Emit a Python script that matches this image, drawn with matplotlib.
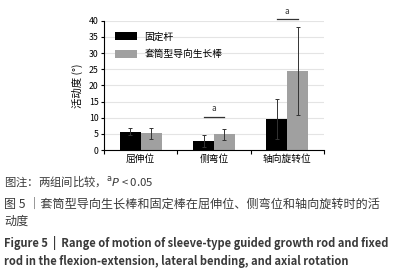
import numpy as np
import matplotlib
matplotlib.use('Agg')
import matplotlib.pyplot as plt

plt.rcParams['font.family'] = ['Noto Sans CJK SC', 'DejaVu Sans']

# 数据
categories = ['屈伸位', '侧弯位', '轴向旋转位']
series_names = ['固定杆', '套筒型导向生长棒']
fixed_mean = [5.7, 2.8, 9.5]
fixed_sd = [1.1, 1.8, 6.2]
sleeve_mean = [5.2, 4.9, 24.5]
sleeve_sd = [1.7, 1.7, 13.7]
yticks = [0, 5, 10, 15, 20, 25, 30, 35, 40]

fig = plt.figure(figsize=(4.12, 2.75), dpi=100)
ax = fig.add_axes([104 / 412, 1 - 150 / 275, 220 / 412, 129.3 / 275])

x = np.arange(len(categories))
w = 0.286
ax.bar(x - w / 2, fixed_mean, w, color='black', label=series_names[0], zorder=2)
ax.bar(x + w / 2, sleeve_mean, w, color='#a0a0a0', label=series_names[1], zorder=2)
ekw = dict(fmt='none', ecolor='#333333', elinewidth=0.7, capsize=1.5, capthick=0.7, zorder=3)
ax.errorbar(x - w / 2, fixed_mean, yerr=fixed_sd, **ekw)
ax.errorbar(x + w / 2, sleeve_mean, yerr=sleeve_sd, **ekw)

# 显著性标记
for i, ly in [(1, 10.3), (2, 40.5)]:
    ax.plot([i - w / 2, i + w / 2], [ly, ly], color='#333333', lw=0.9, clip_on=False)
    ax.text(i, ly + 1.0, 'a', ha='center', va='bottom', fontsize=6, color='#333333')

ax.set_xlim(-0.5, 2.5)
ax.set_ylim(0, 40)
ax.set_yticks(yticks)
ax.set_xticks([-0.5, 0.5, 1.5, 2.5])
ax.set_xticklabels([])
ax.set_xticks(x, minor=True)
ax.set_xticklabels(categories, minor=True, fontsize=7)
ax.tick_params(axis='x', which='minor', length=0, pad=3)
ax.tick_params(axis='x', which='major', length=3, width=0.8, direction='out')
ax.tick_params(axis='y', length=2.5, width=0.8, labelsize=6.3, pad=1.5)
ax.yaxis.grid(True, color='#e4e4e4', lw=0.8, zorder=0)
ax.set_axisbelow(True)
for s in ['top', 'right']:
    ax.spines[s].set_visible(False)
ax.set_ylabel('活动度 (°)', fontsize=7.5, labelpad=4)
ax.legend(loc='upper left', frameon=False, fontsize=7, handlelength=2.2,
          handleheight=0.9, borderaxespad=0.3, labelspacing=0.8,
          bbox_to_anchor=(0.02, 0.97))

# 图注
tc = '#3a3a3a'
fig.text(4 / 412, 1 - 181 / 275, '图注：两组间比较，$^{\\mathrm{a}}$$P$ < 0.05', fontsize=8.2,
         color=tc, va='center')
fig.text(4 / 412, 1 - 204 / 275, '图 5 ｜套筒型导向生长棒和固定棒在屈伸位、侧弯位和轴向旋转时的活',
         fontsize=8.7, color=tc, va='center')
fig.text(4 / 412, 1 - 221 / 275, '动度', fontsize=8.7, color=tc, va='center')
fig.text(4 / 412, 1 - 243 / 275,
         'Figure 5  |  Range of motion of sleeve-type guided growth rod and fixed',
         fontsize=8.0, color=tc, va='center', fontweight='semibold')
fig.text(4 / 412, 1 - 262 / 275,
         'rod in the flexion-extension, lateral bending, and axial rotation',
         fontsize=8.0, color=tc, va='center', fontweight='semibold')

fig.savefig('out.png', dpi=100)
